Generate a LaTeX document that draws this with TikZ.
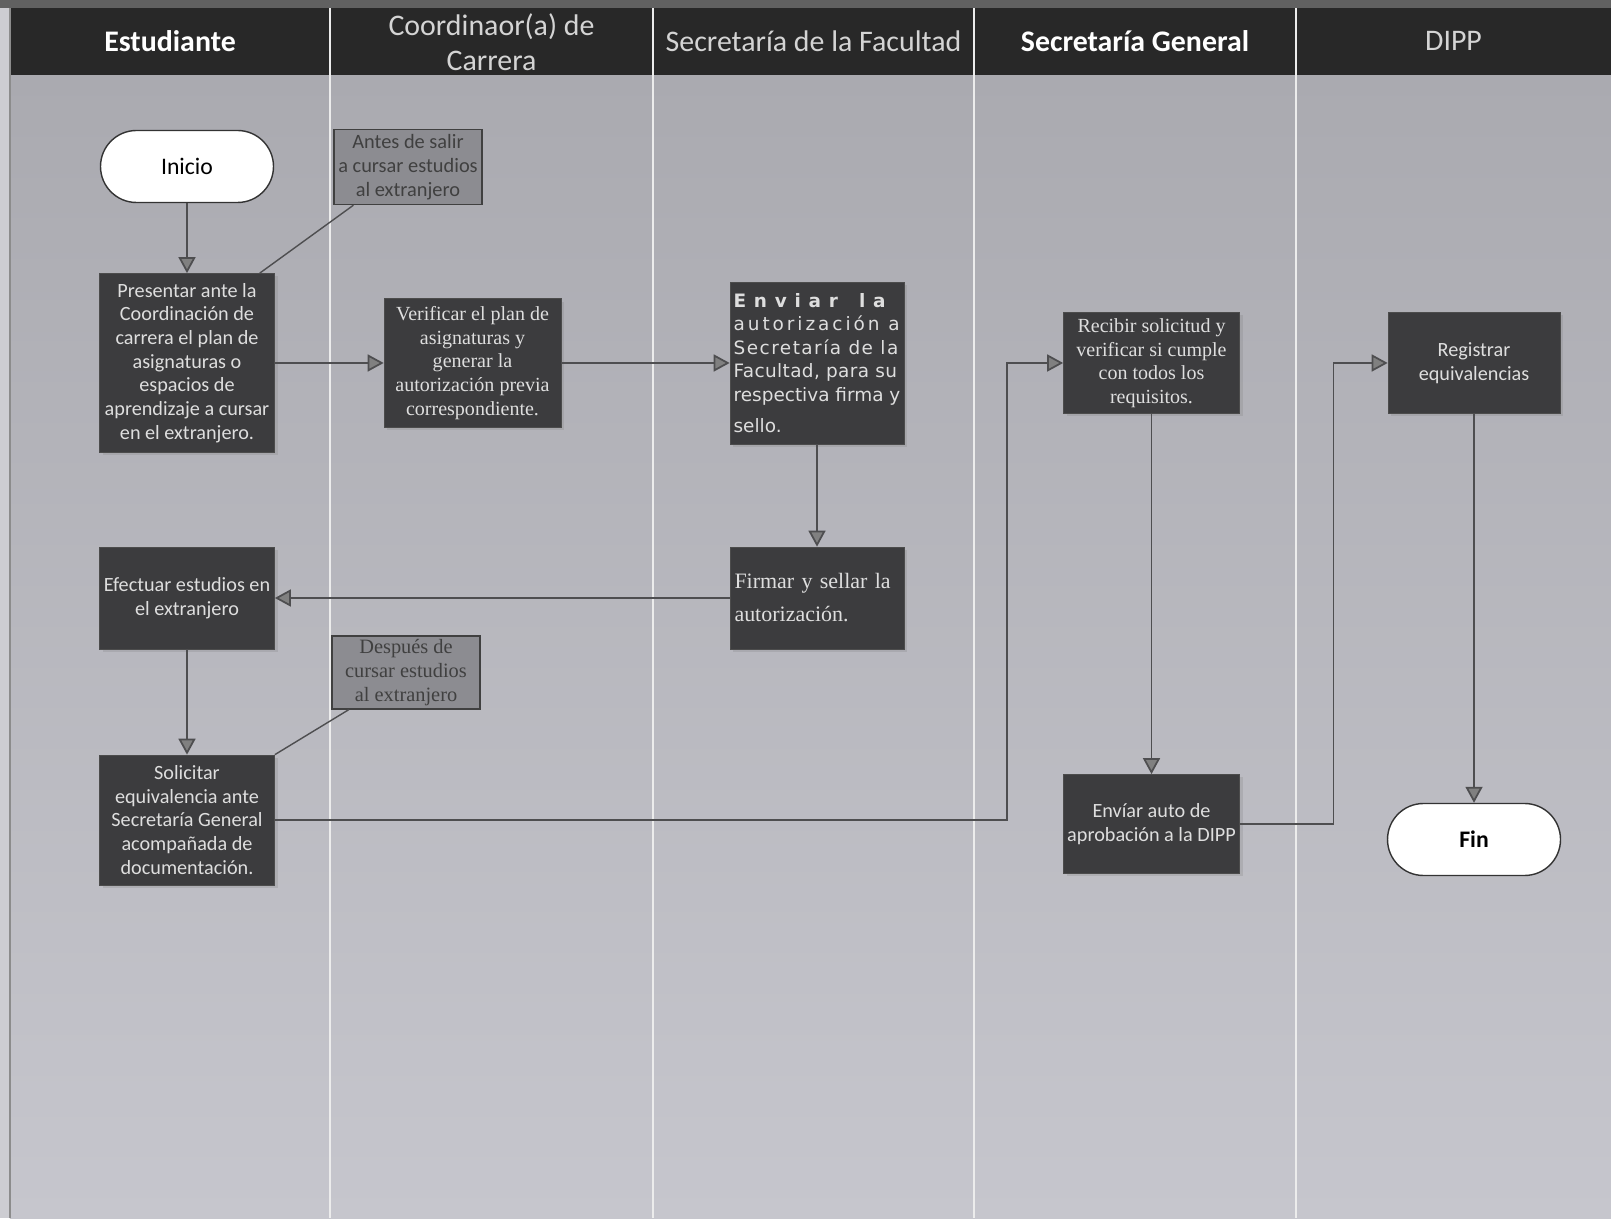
\documentclass[tikz,border=0pt]{standalone}
\usepackage{fontspec}
\setmainfont{Liberation Serif}
\newfontfamily\calib{Carlito}
\newfontfamily\verd{DejaVu Sans}
\usetikzlibrary{arrows.meta, shadows}
\definecolor{pagegray}{RGB}{205,205,210}
\definecolor{bodytop}{RGB}{170,170,176}
\definecolor{bodybot}{RGB}{198,198,205}
\definecolor{headgray}{RGB}{40,40,40}
\definecolor{boxgray}{RGB}{60,60,62}
\definecolor{notegray}{RGB}{140,140,145}
\definecolor{linegray}{RGB}{78,78,80}
\definecolor{txtgray}{RGB}{222,222,222}
\definecolor{headtxt}{RGB}{212,212,212}
\newcommand{\spaced}[2]{{\addfontfeature{LetterSpace=#1}#2}}

\begin{document}
\begin{tikzpicture}[
    act/.style={draw=black!70, fill=boxgray, text=txtgray, minimum width=3.5cm, inner sep=2pt,
        drop shadow={opacity=0.25, shadow xshift=0.6mm, shadow yshift=-0.6mm}},
    sans/.style={font=\calib\fontsize{11.5}{13.5}\selectfont, align=center},
    serif/.style={font=\fontsize{11.4}{13.4}\selectfont, align=center},
    note/.style={draw=black!75, fill=notegray, text=black!75, minimum width=2.96cm, inner sep=1pt, line width=0.8pt},
    term/.style={draw=black!80, fill=white, rounded corners=0.72cm, minimum width=3.46cm, minimum height=1.44cm,
        line width=0.8pt, font=\calib\fontsize{13.5}{15}\selectfont},
    flow/.style={draw=linegray, line width=1pt, -{Triangle[length=0.32cm, width=0.34cm, fill=gray]}},
    tag/.style={draw=linegray, line width=0.8pt},
    lane/.style={font=\calib\fontsize{17}{19.9}\selectfont, align=center, text=headtxt},
]
    \useasboundingbox (0,0) rectangle (32.22,24.36);
    % background, header band and lanes
    \fill[pagegray] (0,0) rectangle (32.22,24.36);
    \fill[black!62] (0,24.2) rectangle (32.22,24.36);
    \shade[top color=bodytop, bottom color=bodybot] (0.2,0) rectangle (32.22,22.86);
    \fill[headgray] (0.2,22.86) rectangle (32.22,24.2);
    \draw[black!45, line width=0.6pt] (0.2,0) -- (0.2,24.2);
    \foreach \x in {6.6,13.06,19.48,25.92}
        \draw[white!85!gray, line width=0.7pt] (\x,0) -- (\x,24.2);

    \node[lane, text=white] (hest) at (3.4,23.54) {\bfseries Estudiante};
    \node[lane] (hcoord) at (9.83,23.52) {Coordinaor(a) de\\Carrera};
    \node[lane] (hfac) at (16.27,23.54) {Secretaría de la Facultad};
    \node[lane, text=white] (hgen) at (22.7,23.54) {\bfseries Secretaría General};
    \node[lane] (hdipp) at (29.07,23.54) {DIPP};

    % Estudiante
    \node[term] (inicio) at (3.74,21.03) {Inicio};
    \node[act, sans, minimum height=3.58cm] (presentar) at (3.74,17.1)
        {Presentar ante la\\Coordinación de\\carrera el plan de\\asignaturas o\\espacios de\\aprendizaje a cursar\\en el extranjero.};
    \node[act, sans, minimum height=2.04cm] (efectuar) at (3.74,12.4)
        {Efectuar estudios en\\el extranjero};
    \node[act, sans, minimum height=2.6cm] (solicitar) at (3.74,7.96)
        {Solicitar\\equivalencia ante\\Secretaría General\\acompañada de\\documentación.};

    % Coordinador(a)
    \node[note, font=\calib\fontsize{11.6}{13.6}\selectfont, align=center, minimum height=1.5cm] (antes) at (8.16,21.02)
        {Antes de salir\\a cursar estudios\\al extranjero};
    \node[act, serif, minimum width=3.54cm, minimum height=2.57cm] (verificar) at (9.45,17.1)
        {Verificar el plan de\\asignaturas y\\generar la\\autorización previa\\correspondiente.};
    \node[note, font=\fontsize{11.6}{13.6}\selectfont, align=center, minimum height=1.46cm] (despues) at (8.12,10.91)
        {Después de\\cursar estudios\\al extranjero};

    % Secretaria de la Facultad
    \node[act, font=\verd\fontsize{10.5}{13.4}\selectfont, align=left, minimum width=3.48cm,
        minimum height=3.24cm] (enviar) at (16.34,17.1)
        {\spaced{42}{\bfseries Enviar}\hspace{12pt}\spaced{42}{\bfseries la}\\
         \spaced{16}{autorización a}\\
         \spaced{8}{Secretaría de la}\\
         \spaced{2}{Facultad, para su}\\
         respectiva firma y\\[0.16cm]
         sello.};
    \node[act, font=\fontsize{12.5}{18.8}\selectfont, align=left, text width=3.3cm, minimum width=3.48cm,
        minimum height=2.04cm] (firmar) at (16.34,12.4)
        {Firmar y sellar la\\autorización.};

    % Secretaria General
    \node[act, serif, minimum width=3.52cm, minimum height=2.02cm] (recibir) at (23.03,17.1)
        {Recibir solicitud y\\verificar si cumple\\con todos los\\requisitos.};
    \node[act, sans, minimum width=3.52cm, minimum height=1.98cm] (enviarauto) at (23.03,7.88)
        {Envíar auto de\\aprobación a la DIPP};

    % DIPP
    \node[act, sans, minimum width=3.44cm, minimum height=2.02cm] (registrar) at (29.48,17.1)
        {Registrar\\equivalencias};
    \node[term] (fin) at (29.48,7.57) {\bfseries Fin};

    % connectors
    \draw[flow] (inicio) -- (presentar);
    \draw[flow] (presentar) -- (verificar);
    \draw[flow] (verificar) -- (enviar);
    \draw[flow] (enviar) -- (firmar);
    \draw[flow] (firmar) -- (efectuar);
    \draw[flow] (efectuar) -- (solicitar);
    \coordinate (j1) at (20.14,17.1);
    \draw[flow] (solicitar.east) -| (j1) -- (recibir);
    \draw[flow] (recibir) -- (enviarauto);
    \coordinate (j2) at (26.67,17.1);
    \draw[flow] (enviarauto.east) -| (j2) -- (registrar);
    \draw[flow] (registrar) -- (fin);
    \draw[tag] (antes.215) -- (presentar.51);
    \draw[tag] (despues.213) -- (solicitar.north east);
\end{tikzpicture}
\end{document}
